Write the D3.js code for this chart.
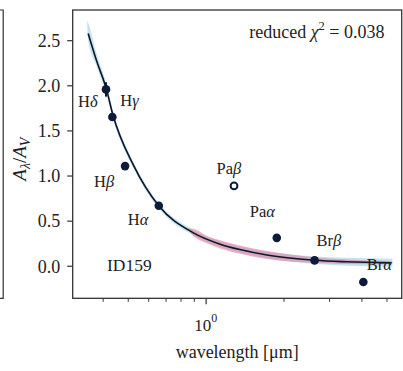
<!DOCTYPE html>
<html><head><meta charset="utf-8">
<script src="https://cdn.jsdelivr.net/npm/d3@7"></script>
</head>
<body style="margin:0">
<svg id="c" width="403" height="371"></svg>
<script>
// ---- data ----
const lineNames   = ["H\u03b4","H\u03b3","H\u03b2","H\u03b1","Pa\u03b2","Pa\u03b1","Br\u03b2","Br\u03b1"];
const wavelengths = [0.4102, 0.4341, 0.4861, 0.6563, 1.2818, 1.8751, 2.6252, 4.0512];
const ratios      = [1.96, 1.655, 1.11, 0.67, 0.89, 0.315, 0.065, -0.175];
const ratioErr    = [0.08, 0.02, 0.02, 0.02, 0.02, 0.02, 0.02, 0.04];
const usedInFit   = [1, 1, 1, 1, 0, 1, 1, 1];

const fitLam  = [0.350, 0.377, 0.412, 0.435, 0.526, 0.656, 0.893, 1.133, 1.35, 1.719, 2.1, 2.64, 3.5, 5.17];
const fitVal  = [2.58, 2.28, 1.96, 1.69, 1.11, 0.67, 0.37, 0.245, 0.185, 0.125, 0.092, 0.066, 0.050, 0.038];

const blueLam = [0.347, 0.350, 0.377, 0.412, 0.435, 0.526, 0.656, 0.893, 1.133, 1.35, 1.719, 2.1, 2.64, 3.5, 5.25];
const blueLo  = [2.66, 2.50, 2.22, 1.91, 1.65, 1.075, 0.64, 0.34, 0.213, 0.150, 0.088, 0.052, 0.024, 0.006, -0.006];
const blueHi  = [2.72, 2.70, 2.36, 2.02, 1.74, 1.145, 0.70, 0.40, 0.277, 0.220, 0.162, 0.132, 0.108, 0.094, 0.082];

const pinkLam = [0.85, 0.893, 1.0, 1.133, 1.35, 1.719, 2.1, 2.64, 3.5, 5.2];
const pinkLo  = [0.41, 0.335, 0.258, 0.198, 0.138, 0.080, 0.052, 0.036, 0.026, 0.021];
const pinkHi  = [0.42, 0.415, 0.342, 0.288, 0.230, 0.168, 0.130, 0.098, 0.076, 0.057];

const yTicks = [0.0, 0.5, 1.0, 1.5, 2.0, 2.5];
const xMinorTicks = [0.4, 0.5, 0.6, 0.7, 0.8, 0.9, 2, 3, 4, 5];
const xMajorTicks = [1];

// label offsets (px) relative to each point
const labelDx = [-28, 8, -31, -31, -17.5, -27, 2, 3.5];
const labelDy = [18, -11, 21, 19.5, -11.5, -21, -14, -12.5];

// ---- layout ----
const FONT = "Liberation Serif";
const svg = d3.select("#c");
const L = 72.7, R = 401.7, T = 10, B = 298.3;
const x = d3.scaleLog().domain([0.305, 5.7]).range([L, R]);
const y = d3.scaleLinear().domain([-0.355, 2.84]).range([B, T]);

// partial left neighbour panel frame
svg.append("path").attr("d", `M0,${T}H3.2V${B}H0`).attr("fill","none").attr("stroke","#333").attr("stroke-width",1.2);

// bands
const bandArea = d3.area().x(d=>x(d[0])).y0(d=>y(d[1])).y1(d=>y(d[2])).curve(d3.curveMonotoneX);
svg.append("path").datum(blueLam.map((l,i)=>[l,blueLo[i],blueHi[i]]))
  .attr("d", bandArea).attr("fill","rgb(150,205,232)").attr("fill-opacity",0.55);
svg.append("path").datum(pinkLam.map((l,i)=>[l,pinkLo[i],pinkHi[i]]))
  .attr("d", bandArea).attr("fill","rgb(225,105,140)").attr("fill-opacity",0.5);

// fit line
const line = d3.line().x(d=>x(d[0])).y(d=>y(d[1])).curve(d3.curveMonotoneX);
svg.append("path").datum(fitLam.map((l,i)=>[l,fitVal[i]]))
  .attr("d", line).attr("fill","none").attr("stroke","#0c1626").attr("stroke-width",1.6);

// error bars
const pts = wavelengths.map((l,i)=>({l, v:ratios[i], e:ratioErr[i], used:usedInFit[i], name:lineNames[i], dx:labelDx[i], dy:labelDy[i]}));
svg.append("g").selectAll("line").data(pts).join("line")
  .attr("x1",d=>x(d.l)).attr("x2",d=>x(d.l))
  .attr("y1",d=>y(d.v-d.e)).attr("y2",d=>y(d.v+d.e))
  .attr("stroke","#0d1a3a").attr("stroke-width",2);

// points
svg.append("g").selectAll("circle").data(pts).join("circle")
  .attr("cx",d=>x(d.l)).attr("cy",d=>y(d.v))
  .attr("r",d=>d.used?4.3:3.4)
  .attr("fill",d=>d.used?"#0d1a3a":"#fff")
  .attr("stroke","#0d1a3a").attr("stroke-width",d=>d.used?0:2);

function txt(sel){ return sel.attr("font-family",FONT).attr("fill","#222"); }

// point labels
const lab = txt(svg.selectAll("text.lab").data(pts).join("text").attr("class","lab"))
  .attr("x",d=>x(d.l)+d.dx).attr("y",d=>y(d.v)+d.dy)
  .attr("font-size",16.5);
lab.each(function(d){
  const t = d3.select(this);
  t.append("tspan").text(d.name.slice(0,-1));
  t.append("tspan").attr("font-style","italic").text(d.name.slice(-1));
});

// frame
svg.append("rect").attr("x",L).attr("y",T).attr("width",R-L).attr("height",B-T)
  .attr("fill","none").attr("stroke","#333").attr("stroke-width",1.3);

// y axis ticks
svg.selectAll("line.yt").data(yTicks).join("line").attr("class","yt")
  .attr("x1",L-5.5).attr("x2",L).attr("y1",d=>y(d)).attr("y2",d=>y(d))
  .attr("stroke","#333").attr("stroke-width",1.2);
txt(svg.selectAll("text.yt").data(yTicks).join("text").attr("class","yt"))
  .attr("x",L-12.5).attr("y",d=>y(d)+6.3).attr("text-anchor","end").attr("font-size",18)
  .text(d=>d3.format(".1f")(d));

// x axis ticks
svg.selectAll("line.mi").data(xMinorTicks).join("line").attr("class","mi")
  .attr("x1",d=>x(d)).attr("x2",d=>x(d)).attr("y1",B).attr("y2",B+3.5)
  .attr("stroke","#333").attr("stroke-width",1);
svg.selectAll("line.ma").data(xMajorTicks).join("line").attr("class","ma")
  .attr("x1",d=>x(d)).attr("x2",d=>x(d)).attr("y1",B).attr("y2",B+6)
  .attr("stroke","#333").attr("stroke-width",1.2);
xMajorTicks.forEach(v=>{
  const t = txt(svg.append("text")).attr("x",x(v)-0.5).attr("y",330.5).attr("text-anchor","middle").attr("font-size",17);
  t.append("tspan").text("10");
  t.append("tspan").attr("font-size",12).attr("dy",-9).text(String(Math.round(Math.log10(v))));
});

// axis labels
txt(svg.append("text")).attr("x",(L+R)/2).attr("y",358).attr("text-anchor","middle").attr("font-size",18)
  .text("wavelength [\u03bcm]");
const yl = txt(svg.append("text")).attr("transform",`translate(26,${(T+B)/2+5}) rotate(-90)`)
  .attr("text-anchor","middle").attr("font-size",19);
yl.append("tspan").attr("font-style","italic").text("A");
yl.append("tspan").attr("font-style","italic").attr("font-size",14).attr("dy",4).text("\u03bb");
yl.append("tspan").attr("dy",-4).text("/");
yl.append("tspan").attr("font-style","italic").text("A");
yl.append("tspan").attr("font-style","italic").attr("font-size",14).attr("dy",4).text("V");

// annotations
txt(svg.append("text")).attr("x",107).attr("y",270.5).attr("font-size",17.5).text("ID159");
const chi = txt(svg.append("text")).attr("x",384.5).attr("y",37.5).attr("text-anchor","end").attr("font-size",18);
chi.append("tspan").text("reduced ");
chi.append("tspan").attr("font-style","italic").text("\u03c7");
chi.append("tspan").attr("font-size",12.5).attr("dy",-8).text("2");
chi.append("tspan").attr("dy",8).text(" = 0.038");
</script>
</body></html>
